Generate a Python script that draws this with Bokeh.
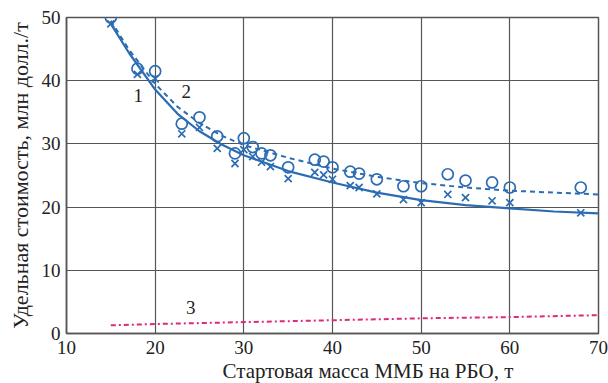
from bokeh.plotting import figure
from bokeh.models import ColumnDataSource, Title, FixedTicker, Range1d
from bokeh.core.properties import value
from bokeh.embed import file_html
from bokeh.resources import INLINE

# Series 1 (crosses) measured points
x1 = [15, 18, 20, 23, 25, 27, 29, 30, 31, 32, 33, 35, 38, 39, 40, 42, 43, 45, 48, 50, 53, 55, 58, 60, 68]
y1 = [49, 41, 40.3, 31.6, 32.6, 29.3, 26.9, 29.1, 28, 27.1, 26.4, 24.5, 25.5, 25.1, 24.4, 23.4, 23.1, 22.1, 21.2, 20.7, 22, 21.5, 21, 20.7, 19.1]
# Series 2 (circles) measured points
x2 = [15, 18, 20, 23, 25, 27, 29, 30, 31, 32, 33, 35, 38, 39, 40, 42, 43, 45, 48, 50, 53, 55, 58, 60, 68]
y2 = [50, 41.9, 41.5, 33.2, 34.2, 31.2, 28.5, 30.9, 29.5, 28.5, 28.2, 26.3, 27.5, 27.2, 26.3, 25.6, 25.3, 24.4, 23.3, 23.3, 25.2, 24.2, 23.9, 23.1, 23.1]
# Fitted curves
xc = [15, 17, 20, 22.5, 25, 27.5, 30, 35, 40, 45, 50, 55, 60, 65, 70]
yc1 = [49, 44.5, 38.6, 34.8, 32.0, 29.9, 28.2, 25.7, 23.9, 22.3, 21.1, 20.3, 19.8, 19.3, 19.0]
yc2 = [49.5, 45.0, 39.5, 35.9, 33.3, 31.3, 29.8, 27.8, 26.1, 24.8, 23.8, 23.1, 22.6, 22.3, 22.0]
# Curve 3
x3 = [15, 20, 30, 40, 50, 60, 70]
y3 = [1.3, 1.5, 1.8, 2.1, 2.4, 2.6, 2.9]

lab_text = ["1", "2", "3"]
lab_x = [18.1, 23.5, 24]
lab_y = [37.7, 38.3, 4.1]

x_ticks = [10, 20, 30, 40, 50, 60, 70]
y_ticks = [0, 10, 20, 30, 40, 50]

BLUE = "#2b6cb3"
PINK = "#de2a78"
GRID = "#555555"
TEXT = "#222222"
FONT = "Liberation Serif"

p = figure(width=608, height=383, output_backend="svg", toolbar_location=None,
           x_range=Range1d(10, 70), y_range=Range1d(0, 50),
           min_border_left=66, min_border_right=10, min_border_top=17, min_border_bottom=50)

p.xaxis.ticker = FixedTicker(ticks=x_ticks)
p.yaxis.ticker = FixedTicker(ticks=y_ticks)
for ax in (p.xaxis, p.yaxis):
    ax.major_tick_line_color = None
    ax.minor_tick_line_color = None
    ax.major_tick_in = 0
    ax.major_tick_out = 0
    ax.axis_line_color = GRID
    ax.axis_line_width = 1.5
    ax.major_label_text_font = FONT
    ax.major_label_text_font_size = "19px"
    ax.major_label_text_color = TEXT
    ax.axis_label_text_font = FONT
    ax.axis_label_text_font_style = "normal"
    ax.axis_label_text_color = TEXT
p.xaxis.major_label_standoff = 7
p.yaxis.major_label_standoff = 6
p.yaxis.axis_label = "Удельная стоимость, млн долл./т"
p.yaxis.axis_label_text_font_size = "22px"
p.yaxis.axis_label_standoff = 6

t = Title(text="Стартовая масса ММБ на РБО, т", align="left", offset=156,
          text_font=FONT, text_font_size="21px", text_font_style="normal",
          text_color=TEXT, standoff=0)
p.add_layout(t, "below")

p.grid.grid_line_color = GRID
p.grid.grid_line_width = 1.2
p.outline_line_color = GRID
p.outline_line_width = 1.5

p.line(xc, yc1, line_color=BLUE, line_width=2.2)
p.line(xc, yc2, line_color=BLUE, line_width=2, line_dash="5 4")
p.line(x3, y3, line_color=PINK, line_width=2, line_dash="5 3 2 3")

p.scatter(x1, y1, marker="x", size=10, line_color=BLUE, line_width=1.7)
p.scatter(x2, y2, marker="circle", size=11, line_color=BLUE, fill_color=None, line_width=1.7)

src = ColumnDataSource(dict(x=lab_x, y=lab_y, t=lab_text))
p.text("x", "y", text="t", source=src, text_font=value(FONT), text_font_size="19px",
       text_color=TEXT, text_align="center", text_baseline="middle")

open("out.html", "w").write(file_html(p, INLINE))
